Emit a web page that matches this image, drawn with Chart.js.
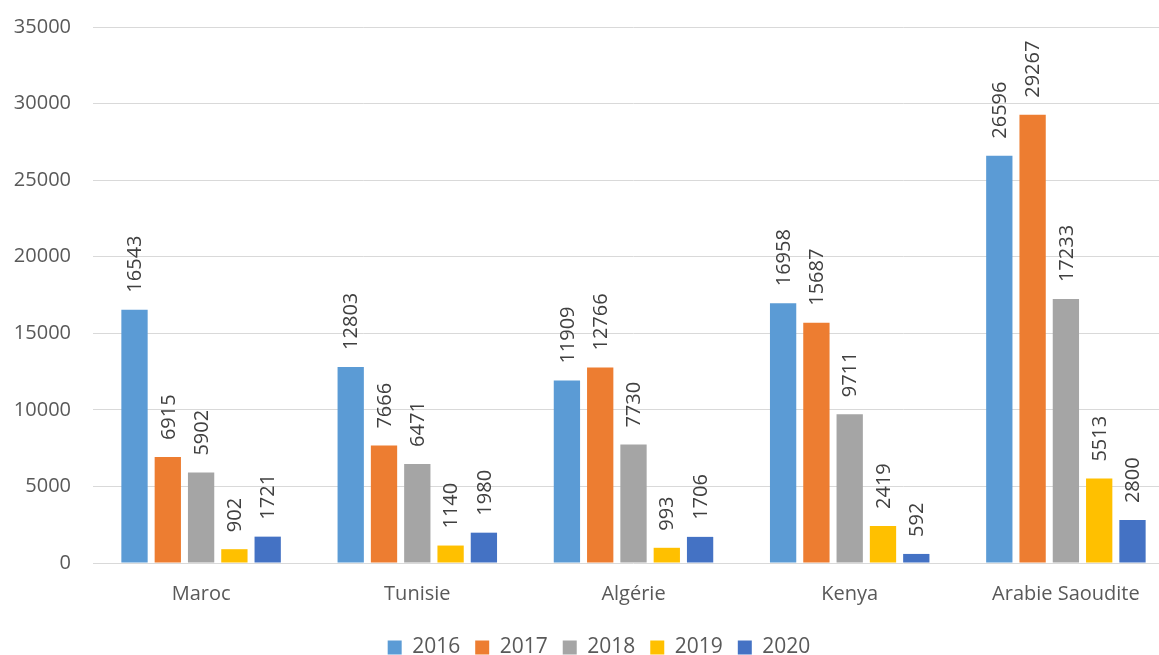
<!DOCTYPE html>
<html><head><meta charset="utf-8">
<script src="https://cdn.jsdelivr.net/npm/chart.js@4/dist/chart.umd.min.js"></script>
<style>html,body{margin:0;padding:0;background:#fff;overflow:hidden;}#wrap{width:1159px;height:655px;overflow:hidden;}canvas{display:block;}</style>
</head><body><div id="wrap"><canvas id="c" width="1174" height="655"></canvas></div>
<script>
const categories = ["Maroc", "Tunisie", "Algérie", "Kenya", "Arabie Saoudite"];
const seriesNames = ["2016", "2017", "2018", "2019", "2020"];
const values2016 = [16543, 12803, 11909, 16958, 26596];
const values2017 = [6915, 7666, 12766, 15687, 29267];
const values2018 = [5902, 6471, 7730, 9711, 17233];
const values2019 = [902, 1140, 993, 2419, 5513];
const values2020 = [1721, 1980, 1706, 592, 2800];
const colors = ["#5B9BD5", "#ED7D31", "#A5A5A5", "#FFC000", "#4472C4"];
const allValues = [values2016, values2017, values2018, values2019, values2020];
const FONT = "'Open Sans', 'DejaVu Sans', sans-serif";

const labelPlugin = {
  id: 'barLabels',
  afterLayout(chart) {
    if (chart.legend) { chart.legend.left += 12; chart.legend.right += 12; }
  },
  afterDatasetsDraw(chart) {
    const ctx = chart.ctx;
    ctx.save();
    ctx.font = "20px " + FONT;
    ctx.fillStyle = "#404040";
    ctx.textAlign = "left";
    ctx.textBaseline = "middle";
    chart.data.datasets.forEach((ds, i) => {
      const meta = chart.getDatasetMeta(i);
      meta.data.forEach((bar, j) => {
        ctx.save();
        ctx.translate(bar.x, bar.y - 17);
        ctx.rotate(-Math.PI / 2);
        ctx.fillText(String(ds.data[j]), 0, 1);
        ctx.restore();
      });
    });
    ctx.restore();
  }
};

new Chart(document.getElementById('c'), {
  type: 'bar',
  data: {
    labels: categories,
    datasets: seriesNames.map((n, i) => ({
      label: n,
      data: allValues[i],
      backgroundColor: colors[i],
      borderWidth: 0,
      categoryPercentage: 0.77,
      barPercentage: 0.79
    }))
  },
  options: {
    responsive: false,
    animation: false,
    layout: { padding: { top: 27, right: 0, left: 0, bottom: -13 } },
    plugins: {
      legend: {
        position: 'bottom',
        labels: { font: { size: 21, family: FONT }, color: '#595959', boxWidth: 14, boxHeight: 14, padding: 15 }
      },
      tooltip: { enabled: false }
    },
    scales: {
      x: {
        grid: { display: false },
        border: { display: false },
        ticks: { font: { size: 20, family: FONT }, color: '#595959', padding: 11 },
        afterFit(s) { s.height = 59; s.paddingLeft = 0; s.paddingRight = 0; }
      },
      y: {
        min: 0, max: 35000,
        ticks: { stepSize: 5000, font: { size: 20, family: FONT }, color: '#595959', padding: 22,
                 callback: (v) => String(v) },
        grid: { color: '#d9d9d9', lineWidth: 1, drawTicks: false },
        border: { display: false },
        afterFit(s) { s.width = 93; s.paddingTop = 0; s.paddingBottom = 0; }
      }
    }
  },
  plugins: [labelPlugin]
});
</script></body></html>
